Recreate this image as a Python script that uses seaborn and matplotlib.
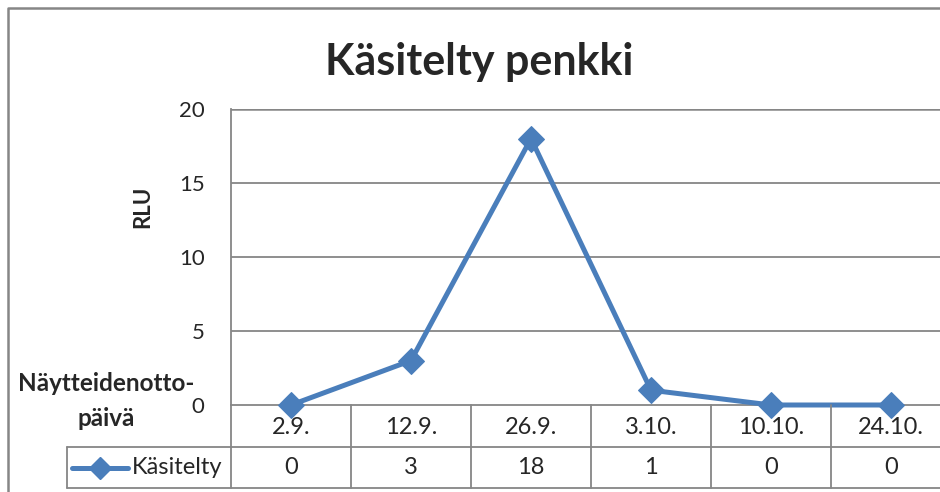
import matplotlib
matplotlib.use("Agg")
import matplotlib.pyplot as plt
from matplotlib.lines import Line2D
import seaborn as sns
import pandas as pd

# ---- data ----
dates = ["2.9.", "12.9.", "26.9.", "3.10.", "10.10.", "24.10."]
kasitelty = [0, 3, 18, 1, 0, 0]
series_name = "Käsitelty"
title = "Käsitelty penkki"
y_label = "RLU"
x_label_lines = ["Näytteidenotto-", "päivä"]
y_ticks = [0, 5, 10, 15, 20]

sns.set_style("white")
plt.rcParams["font.family"] = ["Lato", "DejaVu Sans"]

W, H = 940, 492
fig = plt.figure(figsize=(W / 100, H / 100), dpi=100)

def fx(x):
    return x / W

def fy(y):
    return (H - y) / H

GRID = "#868686"
BLUE = "#4A7EBB"
FS = 16
FS_TAB = 17

left, right, top, bottom = 231, 951, 109, 405
ax = fig.add_axes([fx(left), fy(bottom), fx(right - left), (bottom - top) / H])

df = pd.DataFrame({"pos": range(len(dates)), "val": kasitelty})
sns.lineplot(data=df, x="pos", y="val", ax=ax, color=BLUE, lw=3.6,
             marker="D", markersize=13, markeredgecolor=BLUE,
             markerfacecolor=BLUE, clip_on=False, zorder=5)

ax.set_xlim(-0.5, len(dates) - 0.5)
ax.set_ylim(0, 20)
ax.set_yticks(y_ticks)
ax.set_yticklabels([str(t) for t in y_ticks], fontsize=FS)
ax.tick_params(axis="y", length=0, pad=19)
ax.set_xticks([])
ax.set_xlabel("")
ax.set_ylabel("")
for t in y_ticks[1:]:
    ax.axhline(t, color=GRID, lw=1.3 if t < 20 else 1.8, zorder=1)
for s in ["top", "right"]:
    ax.spines[s].set_visible(False)
ax.spines["left"].set_color(GRID)
ax.spines["left"].set_linewidth(1.3)
ax.spines["bottom"].set_color(GRID)
ax.spines["bottom"].set_linewidth(1.3)

# ---- data table ----
row1, row2 = 447, 488
col_w = (right - left) / len(dates)
lines = []
lines.append(([left, W + 20], [row1, row1]))
lines.append(([67, W + 20], [row2, row2]))
lines.append(([67, left], [row1, row1]))
lines.append(([67, 67], [row1, row2]))
for k in range(len(dates) + 1):
    xk = left + k * col_w
    lines.append(([xk, xk], [bottom, row2]))
for xs, ys in lines:
    fig.add_artist(Line2D([fx(v) for v in xs], [fy(v) for v in ys],
                          color=GRID, lw=1.3))

for i, (d, v) in enumerate(zip(dates, kasitelty)):
    cx = left + (i + 0.5) * col_w
    fig.text(fx(cx), fy((bottom + row1) / 2 + 1), d, ha="center", va="center", fontsize=FS_TAB)
    fig.text(fx(cx), fy((row1 + row2) / 2), str(v), ha="center", va="center", fontsize=FS_TAB)

# legend key in table
ly = (row1 + row2) / 2
fig.add_artist(Line2D([fx(72), fx(128)], [fy(ly), fy(ly)], color=BLUE, lw=3.6))
fig.add_artist(Line2D([fx(100)], [fy(ly)], color=BLUE, marker="D", markersize=11, lw=0))
fig.text(fx(132), fy(ly), series_name, ha="left", va="center", fontsize=FS_TAB)

# titles and labels
fig.text(fx(479), fy(62), title, ha="center", va="center", fontsize=31, fontweight="bold")
fig.text(fx(143), fy(207), y_label, ha="center", va="center", rotation=90,
         fontsize=16, fontweight="bold")
fig.text(fx(106), fy(391), x_label_lines[0], ha="center", va="baseline",
         fontsize=17.5, fontweight="bold")
fig.text(fx(106), fy(426), x_label_lines[1], ha="center", va="baseline",
         fontsize=17.5, fontweight="bold")

# outer chart frame
fig.add_artist(Line2D([fx(8), fx(8), fx(W + 5)], [fy(H + 5), fy(8), fy(8)],
                      color=GRID, lw=1.8))

fig.savefig("out.png", dpi=100)
